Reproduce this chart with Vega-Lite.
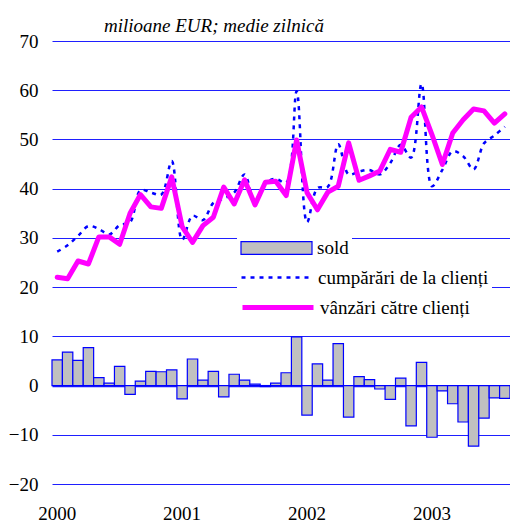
{
  "$schema": "https://vega.github.io/schema/vega-lite/v6.json",
  "width": 458,
  "height": 443,
  "autosize": {"type": "none"},
  "padding": {"left": 52, "top": 41, "right": 0, "bottom": 38},
  "background": "white",
  "title": {
    "text": "milioane EUR; medie zilnică",
    "font": "Times New Roman, Liberation Serif, serif",
    "fontSize": 19,
    "fontStyle": "italic",
    "fontWeight": "normal",
    "color": "black",
    "anchor": "start",
    "frame": "group",
    "dx": 52,
    "dy": 30,
    "baseline": "alphabetic",
    "offset": 11
  },
  "data": {
    "values": [
      {"m": "2000-01", "sell": 22.0, "buy": 27.2, "sold": 5.2},
      {"m": "2000-02", "sell": 21.7, "buy": 28.5, "sold": 6.8},
      {"m": "2000-03", "sell": 25.3, "buy": 30.4, "sold": 5.1},
      {"m": "2000-04", "sell": 24.7, "buy": 32.4, "sold": 7.7},
      {"m": "2000-05", "sell": 30.2, "buy": 31.8, "sold": 1.6},
      {"m": "2000-06", "sell": 30.2, "buy": 30.7, "sold": 0.5},
      {"m": "2000-07", "sell": 28.7, "buy": 32.6, "sold": 3.9},
      {"m": "2000-08", "sell": 35.0, "buy": 33.2, "sold": -1.8},
      {"m": "2000-09", "sell": 38.8, "buy": 39.7, "sold": 0.9},
      {"m": "2000-10", "sell": 36.3, "buy": 39.2, "sold": 2.9},
      {"m": "2000-11", "sell": 36.0, "buy": 38.8, "sold": 2.8},
      {"m": "2000-12", "sell": 42.4, "buy": 45.6, "sold": 3.2},
      {"m": "2001-01", "sell": 32.3, "buy": 29.6, "sold": -2.7},
      {"m": "2001-02", "sell": 29.1, "buy": 34.5, "sold": 5.4},
      {"m": "2001-03", "sell": 32.5, "buy": 33.6, "sold": 1.1},
      {"m": "2001-04", "sell": 34.2, "buy": 37.1, "sold": 2.9},
      {"m": "2001-05", "sell": 40.3, "buy": 38.0, "sold": -2.3},
      {"m": "2001-06", "sell": 36.9, "buy": 39.2, "sold": 2.3},
      {"m": "2001-07", "sell": 41.8, "buy": 42.9, "sold": 1.1},
      {"m": "2001-08", "sell": 36.7, "buy": 37.0, "sold": 0.3},
      {"m": "2001-09", "sell": 41.3, "buy": 41.1, "sold": -0.2},
      {"m": "2001-10", "sell": 41.5, "buy": 42.0, "sold": 0.5},
      {"m": "2001-11", "sell": 38.6, "buy": 41.2, "sold": 2.6},
      {"m": "2001-12", "sell": 49.9, "buy": 59.8, "sold": 9.9},
      {"m": "2002-01", "sell": 39.2, "buy": 33.2, "sold": -6.0},
      {"m": "2002-02", "sell": 35.7, "buy": 40.1, "sold": 4.4},
      {"m": "2002-03", "sell": 39.3, "buy": 40.4, "sold": 1.1},
      {"m": "2002-04", "sell": 40.5, "buy": 49.0, "sold": 8.5},
      {"m": "2002-05", "sell": 49.3, "buy": 42.9, "sold": -6.4},
      {"m": "2002-06", "sell": 41.7, "buy": 43.5, "sold": 1.8},
      {"m": "2002-07", "sell": 42.6, "buy": 43.8, "sold": 1.2},
      {"m": "2002-08", "sell": 43.6, "buy": 42.9, "sold": -0.7},
      {"m": "2002-09", "sell": 48.0, "buy": 45.2, "sold": -2.8},
      {"m": "2002-10", "sell": 47.4, "buy": 48.9, "sold": 1.5},
      {"m": "2002-11", "sell": 54.5, "buy": 46.3, "sold": -8.2},
      {"m": "2002-12", "sell": 56.6, "buy": 61.3, "sold": 4.7},
      {"m": "2003-01", "sell": 51.0, "buy": 40.5, "sold": -10.5},
      {"m": "2003-02", "sell": 44.9, "buy": 43.8, "sold": -1.1},
      {"m": "2003-03", "sell": 51.3, "buy": 47.6, "sold": -3.7},
      {"m": "2003-04", "sell": 54.0, "buy": 46.6, "sold": -7.4},
      {"m": "2003-05", "sell": 56.2, "buy": 43.9, "sold": -12.3},
      {"m": "2003-06", "sell": 55.8, "buy": 49.2, "sold": -6.6},
      {"m": "2003-07", "sell": 53.3, "buy": 50.8, "sold": -2.5},
      {"m": "2003-08", "sell": 55.2, "buy": 52.6, "sold": -2.6}
    ]
  },
  "encoding": {
    "x": {
      "field": "m",
      "type": "ordinal",
      "title": null,
      "scale": {"paddingInner": 0, "paddingOuter": 0},
      "axis": {
        "labelExpr": "slice(datum.value, 5) == '01' ? slice(datum.value, 0, 4) : ''",
        "labelAngle": 0,
        "labelOverlap": false,
        "ticks": false,
        "tickSize": 0,
        "domain": false,
        "grid": false,
        "labelPadding": 20,
        "labelFont": "Times New Roman, Liberation Serif, serif",
        "labelFontSize": 19,
        "labelColor": "black",
        "labelBaseline": "top"
      }
    }
  },
  "layer": [
    {
      "mark": {"type": "bar", "stroke": "#0000ff", "strokeWidth": 1.2, "fillOpacity": 1},
      "encoding": {
        "y": {"field": "sold", "type": "quantitative", "title": null,
              "scale": {"domain": [-20, 70], "nice": false, "zero": false}},
        "fill": {
          "datum": "sold",
          "scale": {"range": ["#c0c0c0"]},
          "legend": {
            "orient": "none",
            "legendX": 185,
            "legendY": 190,
            "title": null,
            "symbolType": "M-1,-0.18L1,-0.18L1,0.18L-1,0.18Z",
            "symbolSize": 5041,
            "symbolStrokeColor": "#0000ff",
            "symbolStrokeWidth": 1.2,
            "symbolOpacity": 1,
            "clipHeight": 28,
            "padding": 3,
            "labelOffset": 4,
            "fillColor": "white",
            "labelExpr": "datum.label + '                              '",
            "labelFont": "Times New Roman, Liberation Serif, serif",
            "labelFontSize": 19,
            "labelColor": "black",
            "labelLimit": 300
          }
        }
      }
    },
    {
      "mark": {"type": "line", "stroke": "#0000ff", "strokeWidth": 2.5, "interpolate": "catmull-rom"},
      "encoding": {
        "y": {"field": "buy", "type": "quantitative", "title": null},
        "strokeDash": {
          "datum": "cumpărări de la clienți",
          "scale": {"range": [[4, 5]]},
          "legend": {
            "orient": "none",
            "legendX": 185,
            "legendY": 220,
            "title": null,
            "symbolType": "stroke",
            "symbolSize": 5041,
            "symbolStrokeColor": "#0000ff",
            "symbolStrokeWidth": 2.5,
            "symbolOpacity": 1,
            "clipHeight": 27,
            "padding": 3,
            "labelOffset": 4,
            "fillColor": "white",
            "labelFont": "Times New Roman, Liberation Serif, serif",
            "labelFontSize": 19,
            "labelColor": "black",
            "labelLimit": 300
          }
        }
      }
    },
    {
      "mark": {"type": "line", "strokeWidth": 5, "strokeJoin": "round", "strokeCap": "round"},
      "encoding": {
        "y": {"field": "sell", "type": "quantitative", "title": null},
        "stroke": {
          "datum": "vânzări către clienți",
          "scale": {"range": ["#ff00ff"]},
          "legend": {
            "orient": "none",
            "legendX": 185,
            "legendY": 250,
            "title": null,
            "symbolType": "stroke",
            "symbolSize": 5041,
            "symbolStrokeWidth": 5,
            "symbolOpacity": 1,
            "clipHeight": 27,
            "padding": 3,
            "labelOffset": 4,
            "fillColor": "white",
            "labelFont": "Times New Roman, Liberation Serif, serif",
            "labelFontSize": 19,
            "labelColor": "black",
            "labelLimit": 300
          }
        }
      }
    }
  ],
  "resolve": {"scale": {"y": "shared"}},
  "config": {
    "font": "Times New Roman, Liberation Serif, serif",
    "view": {"stroke": null},
    "axisY": {
      "values": [-20, -10, 0, 10, 20, 30, 40, 50, 60, 70],
      "domain": false,
      "ticks": false,
      "tickSize": 0,
      "labelPadding": 14,
      "labelFont": "Times New Roman, Liberation Serif, serif",
      "labelFontSize": 19,
      "labelColor": "black",
      "grid": true,
      "gridColor": "#1f1fff",
      "gridOpacity": 1,
      "gridWidth": {"condition": {"test": "datum.value === 0", "value": 1.6}, "value": 1}
    }
  }
}
